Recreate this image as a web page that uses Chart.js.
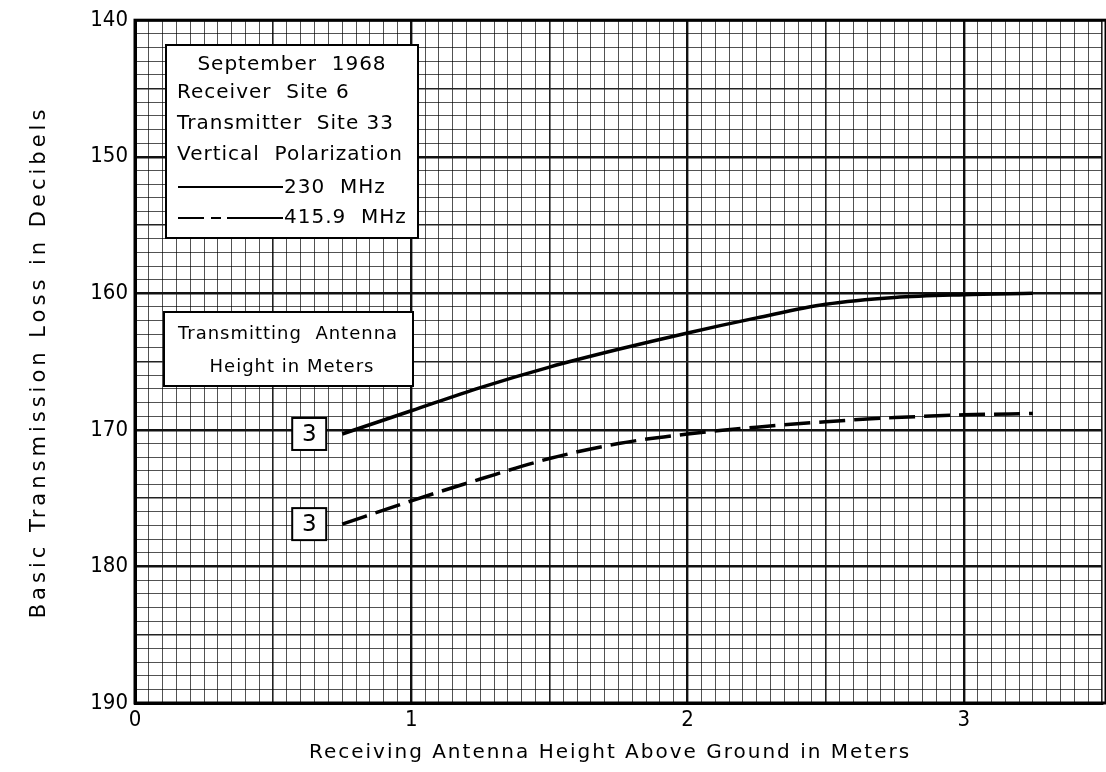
<!DOCTYPE html>
<html>
<head>
<meta charset="utf-8">
<script src="https://cdn.jsdelivr.net/npm/chart.js@4/dist/chart.umd.min.js"></script>
<style>
  html, body { margin: 0; padding: 0; background: #fff; }
  #wrap { width: 1106px; height: 772px; position: relative; }
</style>
</head>
<body>
<div id="wrap"><canvas id="lossChart"></canvas></div>
<script>
// receiving antenna height (m)
const heights = [0.75, 1.0, 1.25, 1.5, 1.75, 2.0, 2.25, 2.5, 2.75, 3.0, 3.25];
// basic transmission loss (dB)
const loss230 = [170.3, 168.6, 166.9, 165.4, 164.1, 162.9, 161.8, 160.8, 160.3, 160.1, 160.0];
const loss415 = [176.9, 175.2, 173.6, 172.1, 171.0, 170.3, 169.8, 169.4, 169.1, 168.9, 168.8];

const xTickLabels = ["0", "1", "2", "3"];
const yTickLabels = ["140", "150", "160", "170", "180", "190"];

const infoLines = ["September  1968", "Receiver  Site 6", "Transmitter  Site 33", "Vertical  Polarization"];
const seriesNames = ["230  MHz", "415.9  MHz"];
const antennaLines = ["Transmitting  Antenna", "Height in Meters"];
const antennaHeight = "3";

const LETTER = '"DejaVu Sans", "Noto Sans", sans-serif';
const NARROW = '"Liberation Sans Narrow", "DejaVu Sans Condensed", "Liberation Sans", sans-serif';

function isMult(v, step) {
  const r = v / step;
  return Math.abs(r - Math.round(r)) < 1e-6;
}

// graph paper weights
function gridColor(v, big, mid) {
  if (isMult(v, big)) return "#111";
  if (isMult(v, mid)) return "#222";
  return "rgba(0,0,0,0.68)";
}
function gridWidth(v, big, mid) {
  if (isMult(v, big)) return 2.4;
  if (isMult(v, mid)) return 1.6;
  return 1;
}

const boxPlugin = {
  id: "boxes",
  afterDatasetsDraw(chart) {
    const c = chart.ctx;
    const a = chart.chartArea;
    const xs = chart.scales.x, ys = chart.scales.y;

    // frame
    c.save();
    c.strokeStyle = "#000";
    c.lineWidth = 3;
    c.strokeRect(a.left, a.top, a.right - a.left + 4, a.bottom - a.top);

    // info box
    c.fillStyle = "#fff";
    c.fillRect(166, 45, 252, 193);
    c.lineWidth = 2;
    c.strokeRect(166, 45, 252, 193);
    c.fillStyle = "#000";
    c.font = "20px " + LETTER;
    c.letterSpacing = "1px";
    c.textBaseline = "middle";
    c.textAlign = "center";
    c.fillText(infoLines[0], 292, 65);
    c.textAlign = "left";
    c.fillText(infoLines[1], 177, 93);
    c.fillText(infoLines[2], 177, 124);
    c.fillText(infoLines[3], 177, 155);
    c.fillText(seriesNames[0], 284, 188);
    c.fillText(seriesNames[1], 284, 218);

    c.lineWidth = 2;
    c.beginPath();
    c.moveTo(178, 187); c.lineTo(283, 187);
    c.stroke();
    c.setLineDash([26, 7, 10, 6, 60]);
    c.beginPath();
    c.moveTo(178, 218); c.lineTo(283, 218);
    c.stroke();
    c.setLineDash([]);

    // antenna height box
    c.fillStyle = "#fff";
    c.fillRect(164, 312, 249, 74);
    c.lineWidth = 2;
    c.strokeRect(164, 312, 249, 74);
    c.fillStyle = "#000";
    c.textAlign = "center";
    c.font = "18px " + LETTER;
    c.fillText(antennaLines[0], 288, 334);
    c.fillText(antennaLines[1], 292, 367);

    // "3" tags at the start of each curve
    c.font = "23px " + LETTER;
    c.letterSpacing = "0px";
    [loss230, loss415].forEach(function (s) {
      const px = xs.getPixelForValue(heights[0]);
      const py = ys.getPixelForValue(s[0]);
      const w = 34, h = 32;
      const bx = px - 16 - w, by = py - h / 2;
      c.fillStyle = "#fff";
      c.fillRect(bx, by, w, h);
      c.strokeStyle = "#000";
      c.lineWidth = 2;
      c.strokeRect(bx, by, w, h);
      c.fillStyle = "#000";
      c.fillText(antennaHeight, bx + w / 2, by + h / 2 + 1);
    });

    // axis titles
    c.font = "20px " + LETTER;
    c.letterSpacing = "2px";
    c.textAlign = "center";
    c.fillText("Receiving Antenna Height Above Ground in Meters", 610, 753);
    c.translate(40, 362);
    c.rotate(-Math.PI / 2);
    c.font = "21px " + LETTER;
    c.letterSpacing = "4px";
    c.fillText("Basic Transmission Loss in Decibels", 0, 0);
    c.restore();
  }
};

new Chart(document.getElementById("lossChart"), {
  type: "line",
  data: {
    datasets: [
      {
        label: seriesNames[0],
        data: heights.map((h, i) => ({ x: h, y: loss230[i] })),
        borderColor: "#000",
        borderWidth: 3.5,
        pointRadius: 0,
        cubicInterpolationMode: "monotone",
        fill: false,
      },
      {
        label: seriesNames[1],
        data: heights.map((h, i) => ({ x: h, y: loss415[i] })),
        borderColor: "#000",
        borderWidth: 3.5,
        borderDash: [26, 9],
        pointRadius: 0,
        cubicInterpolationMode: "monotone",
        fill: false,
      },
    ],
  },
  options: {
    responsive: true,
    maintainAspectRatio: false,
    animation: false,
    layout: { padding: { top: 18, right: 0, bottom: 0, left: 0 } },
    plugins: {
      legend: { display: false },
      tooltip: { enabled: false },
    },
    scales: {
      x: {
        type: "linear",
        min: 0,
        max: 3.5,
        afterFit: function (s) { s.height = 69; },
        border: { display: true, color: "#000", width: 3 },
        grid: {
          drawTicks: false,
          color: (ctx) => gridColor(ctx.tick.value, 1, 0.5),
          lineWidth: (ctx) => gridWidth(ctx.tick.value, 1, 0.5),
        },
        ticks: {
          stepSize: 0.05,
          autoSkip: false,
          maxRotation: 0,
          padding: 4,
          color: "#000",
          font: { family: NARROW, size: 22 },
          callback: function (v) {
            return isMult(v, 1) ? xTickLabels[Math.round(v)] || "" : "";
          },
        },
      },
      y: {
        type: "linear",
        reverse: true,
        min: 140,
        max: 190,
        afterFit: function (s) { s.width = 135; },
        border: { display: true, color: "#000", width: 3 },
        grid: {
          drawTicks: false,
          color: (ctx) => gridColor(ctx.tick.value, 10, 5),
          lineWidth: (ctx) => gridWidth(ctx.tick.value, 10, 5),
        },
        ticks: {
          stepSize: 1,
          autoSkip: false,
          padding: 7,
          color: "#000",
          font: { family: NARROW, size: 22 },
          callback: function (v) {
            return isMult(v, 10) ? yTickLabels[Math.round((v - 140) / 10)] : "";
          },
        },
      },
    },
  },
  plugins: [boxPlugin],
});
</script>
</body>
</html>
